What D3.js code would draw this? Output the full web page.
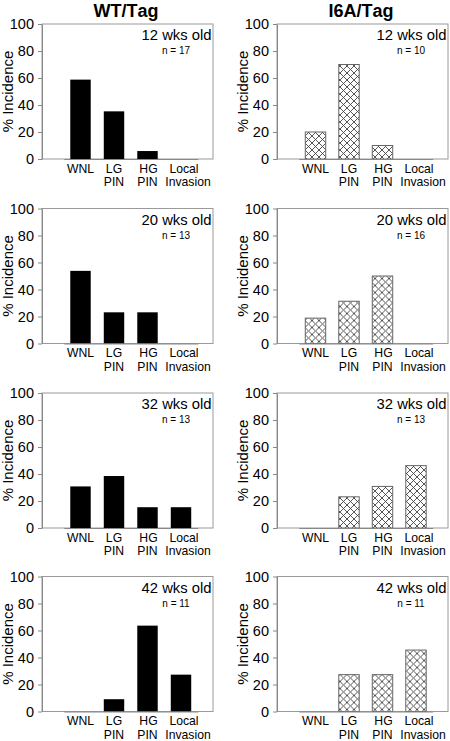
<!DOCTYPE html>
<html>
<head>
<meta charset="utf-8">
<script src="https://cdn.jsdelivr.net/npm/d3@7"></script>
<style>
  html, body { margin: 0; padding: 0; background: #fff; }
  svg { display: block; font-family: "Liberation Sans", Arial, sans-serif; }
</style>
</head>
<body>
<svg id="chart" width="450" height="741"></svg>
<script>
// ---- data ----
const categories = ["WNL", "LG PIN", "HG PIN", "Local Invasion"];
const categoryLines = [["WNL"], ["LG", "PIN"], ["HG", "PIN"], ["Local", "Invasion"]];
const ages = ["12 wks old", "20 wks old", "32 wks old", "42 wks old"];
const groups = ["WT/Tag", "I6A/Tag"];
const wtN = [17, 13, 13, 11];
const i6aN = [10, 16, 13, 11];
const wt12 = [58.8, 35.3, 5.9, 0];
const wt20 = [53.8, 23.1, 23.1, 0];
const wt32 = [30.8, 38.5, 15.4, 15.4];
const wt42 = [0, 9.1, 63.6, 27.3];
const i6a12 = [20, 70, 10, 0];
const i6a20 = [18.8, 31.3, 50, 0];
const i6a32 = [0, 23.1, 30.8, 46.2];
const i6a42 = [0, 27.3, 27.3, 45.5];
const yTicks = [0, 20, 40, 60, 80, 100];

const wtSeries = [wt12, wt20, wt32, wt42];
const i6aSeries = [i6a12, i6a20, i6a32, i6a42];

// ---- layout ----
const svg = d3.select("#chart");
const colLeft = [42, 277];
const plotW = 171;
const rowTop = [24, 208.5, 393, 576.5];
const plotH = 135;

const defs = svg.append("defs");
const pat = defs.append("pattern")
  .attr("id", "hatch")
  .attr("patternUnits", "userSpaceOnUse")
  .attr("width", 7).attr("height", 7);
pat.append("rect").attr("width", 7).attr("height", 7).attr("fill", "#fff");
pat.append("path")
  .attr("d", "M0,0 L7,7 M7,0 L0,7 M-1,6 L1,8 M6,-1 L8,1 M-1,1 L1,-1 M6,8 L8,6")
  .attr("stroke", "#444").attr("stroke-width", 0.9).attr("fill", "none");

// titles
groups.forEach((g, c) => {
  svg.append("text")
    .attr("x", colLeft[c] + plotW / 2 - 1.5)
    .attr("y", 16.5)
    .attr("text-anchor", "middle")
    .attr("font-size", 18)
    .attr("font-weight", "bold")
    .style("font-kerning", "none")
    .attr("fill", "#000")
    .text(g);
});

function drawPanel(c, r, values, n) {
  const x0 = colLeft[c], y0 = rowTop[r];
  const g = svg.append("g").attr("transform", `translate(${x0},${y0})`);
  const y = d3.scaleLinear().domain([0, 100]).range([plotH, 0]);
  const x = d3.scaleBand().domain(categories)
    .range([21.75, plotW - 15.25])
    .paddingInner(0.39).paddingOuter(0.195);

  // frame (top/right)
  g.append("rect")
    .attr("x", 0).attr("y", 0).attr("width", plotW).attr("height", plotH)
    .attr("fill", "none").attr("stroke", "#9a9a9a").attr("stroke-width", 1);

  // bars
  const data = categories.map((k, i) => ({ k, v: values[i] })).filter(d => d.v > 0);
  g.selectAll("rect.bar").data(data).enter().append("rect")
    .attr("class", "bar")
    .attr("x", d => x(d.k))
    .attr("y", d => y(d.v))
    .attr("width", x.bandwidth())
    .attr("height", d => y(0) - y(d.v))
    .attr("fill", c === 0 ? "#000" : "url(#hatch)")
    .attr("stroke", c === 0 ? "#000" : "#666")
    .attr("stroke-width", c === 0 ? 0 : 1);

  // y axis
  const ay = g.append("g").call(
    d3.axisLeft(y).tickValues(yTicks).tickSize(4).tickPadding(4).tickSizeOuter(0)
  );
  ay.select(".domain").attr("stroke", "#888");
  ay.selectAll(".tick line").attr("stroke", "#888");
  ay.selectAll(".tick text")
    .attr("font-size", 14.5)
    .attr("fill", "#000")
    .attr("font-family", "'Liberation Sans', Arial, sans-serif");

  // x axis line
  const ax = g.append("g").attr("transform", `translate(0,${plotH})`)
    .call(d3.axisBottom(x).tickSize(0).tickFormat(""));
  ax.select(".domain").attr("stroke", "#888");

  // category labels
  const shift = { "Local": 3, "Invasion": 7, "HG": 1, "PIN": 0 };
  categories.forEach((k, i) => {
    const cx = x(k) + x.bandwidth() / 2;
    const t = g.append("text")
      .attr("y", plotH + 13.5)
      .attr("text-anchor", "middle")
      .attr("font-size", 12.2)
      .attr("fill", "#000");
    categoryLines[i].forEach((ln, j) => {
      t.append("tspan")
        .attr("x", cx + (shift[ln] || 0))
        .attr("dy", j === 0 ? 0 : 13.5).text(ln);
    });
  });

  // y label
  g.append("text")
    .attr("transform", `translate(-29,${plotH / 2}) rotate(-90)`)
    .attr("text-anchor", "middle")
    .attr("font-size", 15)
    .attr("fill", "#000")
    .text("% Incidence");

  // age label
  g.append("text")
    .attr("x", plotW - 1.5)
    .attr("y", 16)
    .attr("text-anchor", "end")
    .attr("font-size", 14.8)
    .attr("fill", "#000")
    .text(ages[r]);

  // n label
  g.append("text")
    .attr("x", plotW - 37)
    .attr("y", 30)
    .attr("text-anchor", "middle")
    .attr("font-size", 10)
    .attr("fill", "#000")
    .text("n = " + n);
}

for (let r = 0; r < 4; r++) {
  drawPanel(0, r, wtSeries[r], wtN[r]);
  drawPanel(1, r, i6aSeries[r], i6aN[r]);
}
</script>
</body>
</html>
